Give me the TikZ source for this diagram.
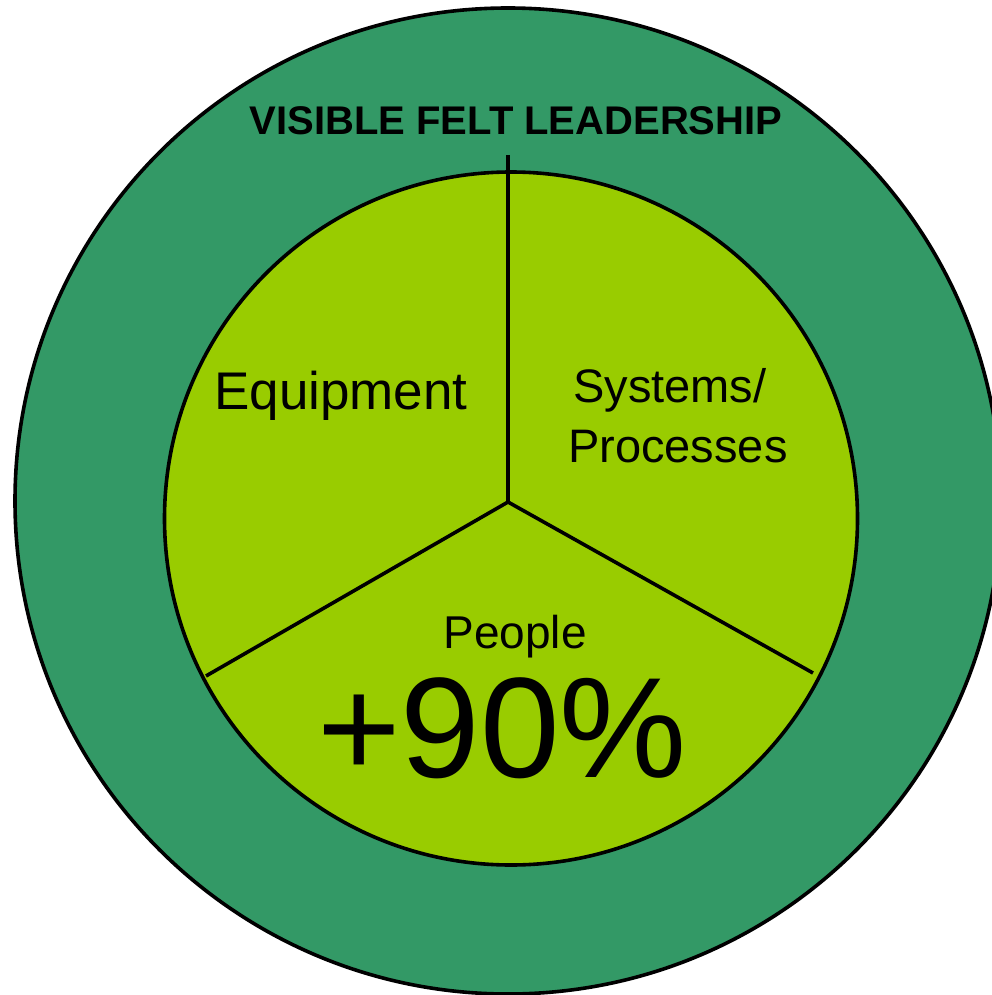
\documentclass[tikz,border=0pt]{standalone}
\usepackage{fontspec}
\setmainfont{Liberation Sans}
\definecolor{outergreen}{HTML}{339966}
\definecolor{innergreen}{HTML}{99CC00}
\begin{document}
\begin{tikzpicture}[x=1pt,y=-1pt,
  ring/.style={draw=black,line width=3.6pt},
  spoke/.style={draw=black,line width=3.6pt},
  lbl/.style={inner sep=0pt,text=black,anchor=base}]
\useasboundingbox (0,0) rectangle (992,995);
\clip (0,0) rectangle (992,995);
\fill[outergreen,ring] (508,501) circle[radius=493];
\fill[innergreen,ring] (511,518.5) circle[radius=346.5];
\coordinate (c) at (508,502);
\coordinate (t) at (508,155);
\coordinate (l) at (206,676);
\coordinate (r) at (813,673);
\draw[spoke] (t) -- (c);
\draw[spoke] (c) -- (l);
\draw[spoke] (c) -- (r);
\node[lbl] (title) at (516,135) {\fontsize{40}{44}\selectfont\bfseries VISIBLE FELT LEADERSHIP};
\node[lbl] (equip) at (341,409) {\fontsize{53}{60}\selectfont Equipment};
\node[lbl,anchor=base west] (sys) at (573,402) {\fontsize{47}{54}\selectfont Systems/};
\node[lbl,anchor=base west] (proc) at (568,462) {\fontsize{47}{54}\selectfont Processes};
\node[lbl] (people) at (515,648) {\fontsize{46}{54}\selectfont People};
\node[lbl] (pct) at (502,777) {\fontsize{143}{150}\selectfont +90\%};
\end{tikzpicture}
\end{document}
